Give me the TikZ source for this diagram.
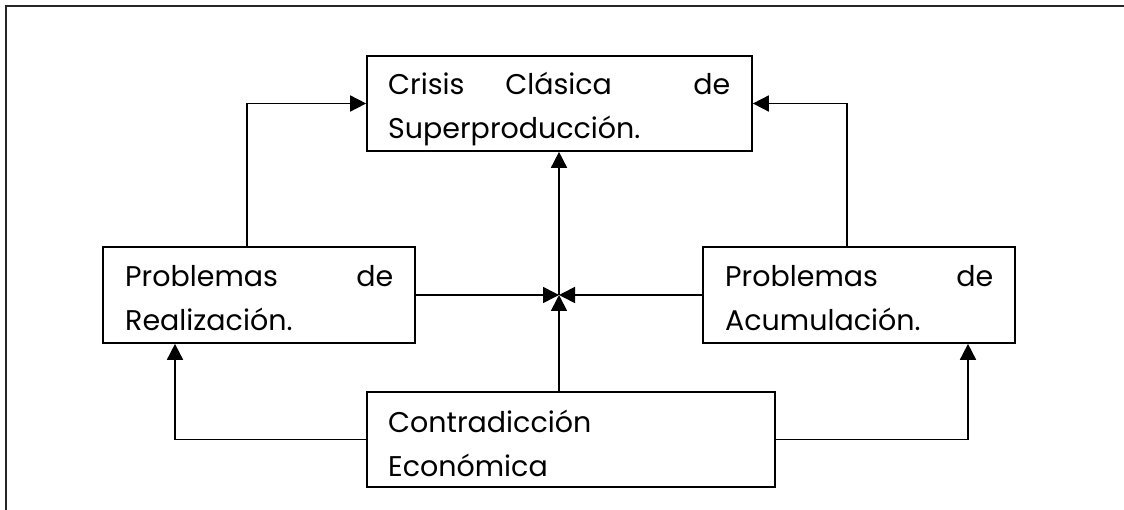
\documentclass[tikz,border=0pt]{standalone}
\usepackage{fontspec}
\setmainfont{Poppins}
\usetikzlibrary{arrows.meta}
\begin{document}
\begin{tikzpicture}[x=1pt,y=-1pt,
  box/.style={draw=black,line width=1.7pt,minimum width=#1,inner sep=0pt},
  txt/.style={anchor=base west,inner sep=0pt,text width=#1,align=left,
    font=\fontsize{28.5}{44}\selectfont},
  conn/.style={line width=1.7pt,-{Triangle[length=16pt,width=16pt]}},
  frame/.style={line width=2.4pt,draw=black!85}]
\useasboundingbox (0,0) rectangle (1124,510);
\draw[frame] (6,512) -- (6,6) -- (1126,6);
% boxes
\node[box=385pt,minimum height=95pt] (top) at (559.5,103.5) {};
\node[box=312pt,minimum height=96pt] (left) at (259,295) {};
\node[box=312pt,minimum height=96pt] (right) at (859,295) {};
\node[box=408pt,minimum height=95pt] (bot) at (571,439.5) {};
% texts
\node[txt=342pt] (ttop) at (388,95) {Crisis\hspace{\stretch{1}}Clásica\hspace{\stretch{2}}de\\Superproducción.};
\node[txt=268pt] (tleft) at (125,287) {Problemas\hfill de\\Realización.};
\node[txt=268pt] (tright) at (725,287) {Problemas\hfill de\\Acumulación.};
\node[txt=342pt] (tbot) at (388,432) {Contradicción\\Económica};
% junction
\coordinate (m) at (559,295);
\coordinate (lup) at (247,0);
\coordinate (rup) at (847,0);
\coordinate (lbot) at (175,0);
\coordinate (rbot) at (968,0);
% connectors
\draw[conn] (lup |- left.north) |- (top.west);
\draw[conn] (rup |- right.north) |- (top.east);
\draw[conn] (left.east) -- (m);
\draw[conn] (right.west) -- (m);
\draw[conn] (m |- bot.north) -- (m);
\draw[conn] (m) -- (m |- top.south);
\draw[conn] (bot.west) -| (lbot |- left.south);
\draw[conn] (bot.east) -| (rbot |- right.south);
\end{tikzpicture}
\end{document}
